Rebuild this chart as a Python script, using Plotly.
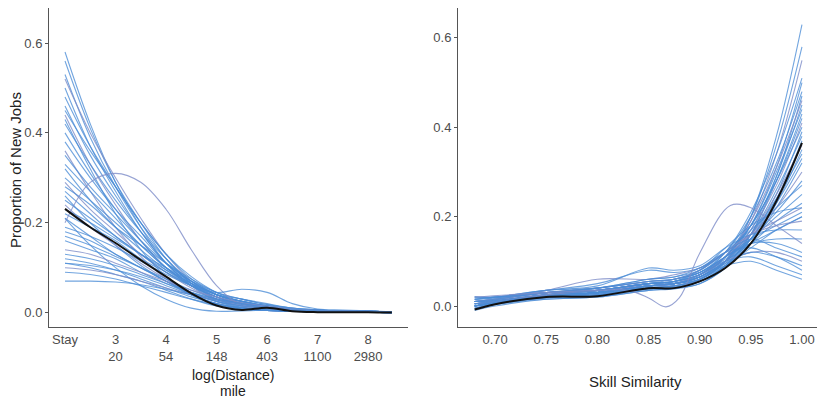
import plotly.graph_objects as go

# ---------------- Left panel: log(Distance) ----------------
dist_x = [2.0, 2.5, 3.0, 3.5, 4.0, 4.5, 5.0, 5.5, 6.0, 6.5, 7.0, 7.5, 8.0, 8.47]
dist_tickvals = [2, 3, 4, 5, 6, 7, 8]
dist_ticktext = ["Stay", "3<br>20", "4<br>54", "5<br>148", "6<br>403", "7<br>1100", "8<br>2980"]

dist_curves = [
    [0.58, 0.42, 0.29, 0.19, 0.11, 0.06, 0.025, 0.012, 0.008, 0.005, 0.003, 0.002, 0.001, 0.0],
    [0.56, 0.41, 0.29, 0.20, 0.12, 0.065, 0.03, 0.015, 0.01, 0.006, 0.004, 0.003, 0.002, 0.001],
    [0.53, 0.39, 0.28, 0.19, 0.12, 0.065, 0.03, 0.015, 0.01, 0.005, 0.003, 0.002, 0.001, 0.0],
    [0.52, 0.40, 0.30, 0.21, 0.13, 0.07, 0.035, 0.02, 0.012, 0.006, 0.004, 0.003, 0.002, 0.001],
    [0.50, 0.37, 0.27, 0.18, 0.11, 0.06, 0.03, 0.02, 0.012, 0.007, 0.005, 0.004, 0.003, 0.002],
    [0.48, 0.37, 0.28, 0.20, 0.13, 0.075, 0.04, 0.02, 0.01, 0.005, 0.003, 0.002, 0.001, 0.0],
    [0.46, 0.35, 0.26, 0.18, 0.11, 0.065, 0.035, 0.02, 0.01, 0.006, 0.004, 0.003, 0.002, 0.001],
    [0.45, 0.36, 0.28, 0.20, 0.13, 0.08, 0.045, 0.025, 0.015, 0.008, 0.005, 0.004, 0.003, 0.002],
    [0.44, 0.33, 0.24, 0.16, 0.10, 0.06, 0.035, 0.02, 0.012, 0.008, 0.005, 0.004, 0.003, 0.002],
    [0.43, 0.32, 0.22, 0.14, 0.08, 0.04, 0.018, 0.008, 0.005, 0.003, 0.002, 0.001, 0.001, 0.0],
    [0.42, 0.33, 0.25, 0.18, 0.12, 0.07, 0.04, 0.022, 0.012, 0.007, 0.004, 0.003, 0.002, 0.001],
    [0.40, 0.31, 0.23, 0.16, 0.10, 0.06, 0.035, 0.02, 0.012, 0.006, 0.004, 0.003, 0.002, 0.001],
    [0.38, 0.30, 0.23, 0.17, 0.11, 0.07, 0.04, 0.025, 0.014, 0.008, 0.005, 0.004, 0.003, 0.002],
    [0.36, 0.27, 0.19, 0.125, 0.075, 0.04, 0.02, 0.01, 0.006, 0.004, 0.003, 0.002, 0.001, 0.0],
    [0.35, 0.28, 0.22, 0.16, 0.11, 0.07, 0.04, 0.025, 0.015, 0.008, 0.005, 0.004, 0.003, 0.002],
    [0.33, 0.27, 0.21, 0.15, 0.10, 0.065, 0.04, 0.025, 0.015, 0.008, 0.005, 0.003, 0.002, 0.001],
    [0.32, 0.25, 0.19, 0.14, 0.095, 0.06, 0.035, 0.02, 0.012, 0.007, 0.004, 0.003, 0.002, 0.001],
    [0.30, 0.25, 0.20, 0.15, 0.10, 0.065, 0.04, 0.025, 0.015, 0.008, 0.005, 0.004, 0.003, 0.002],
    [0.29, 0.23, 0.18, 0.13, 0.09, 0.055, 0.03, 0.018, 0.01, 0.006, 0.004, 0.003, 0.002, 0.001],
    [0.28, 0.24, 0.19, 0.15, 0.11, 0.075, 0.045, 0.03, 0.018, 0.01, 0.006, 0.004, 0.003, 0.002],
    [0.27, 0.22, 0.17, 0.13, 0.09, 0.06, 0.035, 0.02, 0.012, 0.007, 0.005, 0.004, 0.003, 0.002],
    [0.26, 0.20, 0.15, 0.105, 0.07, 0.04, 0.02, 0.01, 0.005, 0.003, 0.002, 0.001, 0.001, 0.0],
    [0.25, 0.21, 0.17, 0.13, 0.095, 0.065, 0.04, 0.025, 0.015, 0.008, 0.005, 0.004, 0.003, 0.002],
    [0.24, 0.19, 0.15, 0.11, 0.075, 0.045, 0.025, 0.015, 0.01, 0.006, 0.004, 0.003, 0.002, 0.001],
    [0.23, 0.20, 0.165, 0.13, 0.10, 0.07, 0.045, 0.03, 0.018, 0.01, 0.006, 0.004, 0.003, 0.002],
    [0.22, 0.19, 0.16, 0.12, 0.09, 0.06, 0.04, 0.03, 0.02, 0.01, 0.006, 0.004, 0.003, 0.002],
    [0.21, 0.17, 0.13, 0.10, 0.07, 0.045, 0.03, 0.02, 0.012, 0.007, 0.005, 0.004, 0.003, 0.002],
    [0.21, 0.15, 0.10, 0.06, 0.03, 0.01, 0.003, 0.004, 0.005, 0.003, 0.002, 0.001, 0.001, 0.0],
    [0.20, 0.29, 0.31, 0.29, 0.23, 0.14, 0.06, 0.015, 0.005, 0.003, 0.002, 0.002, 0.001, 0.0],
    [0.19, 0.17, 0.145, 0.115, 0.085, 0.06, 0.045, 0.052, 0.045, 0.02, 0.008, 0.006, 0.004, 0.002],
    [0.18, 0.16, 0.13, 0.10, 0.07, 0.045, 0.025, 0.012, 0.006, 0.003, 0.002, 0.002, 0.001, 0.0],
    [0.17, 0.15, 0.125, 0.10, 0.075, 0.05, 0.03, 0.02, 0.012, 0.007, 0.005, 0.004, 0.003, 0.002],
    [0.16, 0.14, 0.12, 0.09, 0.065, 0.04, 0.02, 0.01, 0.005, 0.003, 0.002, 0.002, 0.001, 0.0],
    [0.14, 0.13, 0.11, 0.09, 0.07, 0.05, 0.035, 0.022, 0.014, 0.008, 0.005, 0.004, 0.003, 0.002],
    [0.13, 0.12, 0.105, 0.085, 0.065, 0.045, 0.03, 0.02, 0.012, 0.007, 0.005, 0.004, 0.003, 0.002],
    [0.12, 0.11, 0.095, 0.075, 0.055, 0.035, 0.02, 0.01, 0.006, 0.003, 0.002, 0.002, 0.001, 0.0],
    [0.11, 0.105, 0.095, 0.08, 0.06, 0.04, 0.025, 0.015, 0.01, 0.006, 0.004, 0.003, 0.002, 0.001],
    [0.11, 0.10, 0.085, 0.07, 0.05, 0.03, 0.015, 0.008, 0.005, 0.003, 0.002, 0.002, 0.001, 0.0],
    [0.10, 0.095, 0.085, 0.07, 0.055, 0.04, 0.028, 0.018, 0.01, 0.006, 0.004, 0.003, 0.002, 0.001],
    [0.09, 0.085, 0.075, 0.06, 0.045, 0.03, 0.018, 0.01, 0.006, 0.004, 0.003, 0.002, 0.001, 0.0],
    [0.07, 0.07, 0.068, 0.062, 0.052, 0.04, 0.028, 0.018, 0.01, 0.006, 0.004, 0.003, 0.002, 0.001],
]
dist_mean = [0.231, 0.19, 0.155, 0.117, 0.08, 0.043, 0.016, 0.006, 0.011, 0.003, 0.001, 0.001, 0.001, 0.0]

# ---------------- Right panel: Skill Similarity ----------------
skill_x = [0.68, 0.70, 0.75, 0.80, 0.85, 0.875, 0.90, 0.925, 0.95, 0.975, 1.00]
skill_tickvals = [0.70, 0.75, 0.80, 0.85, 0.90, 0.95, 1.00]

skill_curves = [
    [0.00, 0.01, 0.025, 0.03, 0.045, 0.05, 0.06, 0.10, 0.20, 0.38, 0.63],
    [0.01, 0.015, 0.03, 0.035, 0.05, 0.05, 0.065, 0.11, 0.20, 0.36, 0.58],
    [-0.005, 0.005, 0.02, 0.025, 0.04, 0.045, 0.06, 0.10, 0.19, 0.34, 0.55],
    [0.005, 0.01, 0.025, 0.03, 0.045, 0.05, 0.07, 0.12, 0.21, 0.34, 0.51],
    [0.0, 0.008, 0.02, 0.028, 0.04, 0.045, 0.06, 0.10, 0.18, 0.31, 0.50],
    [0.01, 0.015, 0.03, 0.04, 0.055, 0.06, 0.075, 0.12, 0.20, 0.32, 0.48],
    [-0.01, 0.0, 0.015, 0.02, 0.035, 0.04, 0.055, 0.09, 0.16, 0.29, 0.47],
    [0.005, 0.012, 0.025, 0.03, 0.045, 0.05, 0.065, 0.11, 0.19, 0.31, 0.46],
    [0.0, 0.01, 0.02, 0.025, 0.04, 0.042, 0.058, 0.10, 0.17, 0.29, 0.45],
    [0.02, 0.02, 0.03, 0.035, 0.05, 0.055, 0.07, 0.11, 0.18, 0.30, 0.44],
    [-0.005, 0.005, 0.018, 0.025, 0.038, 0.04, 0.055, 0.09, 0.16, 0.28, 0.43],
    [0.01, 0.012, 0.025, 0.032, 0.05, 0.055, 0.07, 0.11, 0.18, 0.28, 0.42],
    [0.0, 0.006, 0.02, 0.03, 0.045, 0.045, 0.06, 0.10, 0.17, 0.27, 0.41],
    [0.015, 0.018, 0.035, 0.05, 0.08, 0.075, 0.085, 0.12, 0.18, 0.28, 0.40],
    [-0.008, 0.003, 0.015, 0.02, 0.035, 0.038, 0.05, 0.085, 0.15, 0.25, 0.39],
    [0.005, 0.01, 0.022, 0.028, 0.042, 0.045, 0.06, 0.10, 0.16, 0.26, 0.38],
    [0.0, 0.008, 0.02, 0.025, 0.04, 0.04, 0.055, 0.09, 0.15, 0.24, 0.37],
    [0.01, 0.015, 0.028, 0.035, 0.05, 0.05, 0.065, 0.10, 0.16, 0.25, 0.36],
    [0.0, 0.005, 0.02, 0.022, 0.038, 0.04, 0.05, 0.085, 0.14, 0.23, 0.35],
    [0.02, 0.02, 0.035, 0.04, 0.055, 0.06, 0.075, 0.11, 0.16, 0.24, 0.34],
    [0.005, 0.01, 0.025, 0.03, 0.045, 0.045, 0.06, 0.095, 0.15, 0.23, 0.33],
    [-0.005, 0.004, 0.018, 0.025, 0.04, 0.042, 0.055, 0.09, 0.14, 0.22, 0.32],
    [0.01, 0.012, 0.025, 0.035, 0.05, 0.055, 0.07, 0.11, 0.16, 0.22, 0.30],
    [0.0, 0.008, 0.022, 0.03, 0.045, 0.05, 0.065, 0.10, 0.15, 0.21, 0.28],
    [0.015, 0.02, 0.03, 0.04, 0.06, 0.065, 0.08, 0.12, 0.17, 0.22, 0.27],
    [0.005, 0.01, 0.025, 0.035, 0.05, 0.055, 0.07, 0.105, 0.15, 0.20, 0.25],
    [0.0, 0.006, 0.02, 0.03, 0.045, 0.05, 0.065, 0.10, 0.14, 0.19, 0.23],
    [0.01, 0.015, 0.035, 0.06, 0.06, 0.07, 0.085, 0.12, 0.16, 0.19, 0.22],
    [0.01, 0.012, 0.025, 0.035, 0.05, 0.055, 0.08, 0.13, 0.18, 0.21, 0.22],
    [0.005, 0.01, 0.025, 0.035, 0.05, 0.06, 0.075, 0.11, 0.15, 0.18, 0.21],
    [0.0, 0.008, 0.022, 0.03, 0.045, 0.05, 0.065, 0.10, 0.14, 0.17, 0.20],
    [0.0, 0.01, 0.02, 0.03, 0.045, 0.05, 0.06, 0.09, 0.13, 0.17, 0.20],
    [0.01, 0.015, 0.03, 0.04, 0.055, 0.06, 0.08, 0.12, 0.16, 0.18, 0.19],
    [0.015, 0.02, 0.035, 0.045, 0.085, 0.08, 0.09, 0.13, 0.16, 0.17, 0.17],
    [0.0, 0.005, 0.02, 0.03, 0.045, 0.05, 0.07, 0.11, 0.14, 0.15, 0.15],
    [0.01, 0.012, 0.025, 0.035, 0.05, 0.055, 0.075, 0.11, 0.14, 0.14, 0.12],
    [0.02, 0.02, 0.03, 0.04, 0.055, 0.06, 0.08, 0.12, 0.15, 0.13, 0.11],
    [0.005, 0.01, 0.025, 0.035, 0.045, 0.05, 0.07, 0.10, 0.12, 0.12, 0.10],
    [0.0, 0.006, 0.02, 0.03, 0.045, 0.05, 0.065, 0.095, 0.12, 0.11, 0.09],
    [0.01, 0.015, 0.03, 0.04, 0.06, 0.065, 0.085, 0.12, 0.13, 0.11, 0.08],
    [0.015, 0.018, 0.03, 0.035, 0.05, 0.055, 0.07, 0.10, 0.11, 0.09, 0.07],
    [0.005, 0.01, 0.022, 0.03, 0.045, 0.05, 0.065, 0.09, 0.10, 0.08, 0.06],
]
# one irregular curve, read on its own grid
skill_odd_x = [0.68, 0.75, 0.80, 0.83, 0.85, 0.867, 0.88, 0.90, 0.93, 0.95, 0.975, 1.00]
skill_odd_y = [0.02, 0.03, 0.035, 0.035, 0.018, -0.002, 0.018, 0.118, 0.225, 0.22, 0.18, 0.14]

skill_mean = [-0.008, 0.004, 0.02, 0.022, 0.04, 0.04, 0.055, 0.085, 0.14, 0.235, 0.365]

# ---------------- Figure ----------------
BLUE = "rgba(74,140,214,0.78)"
LAV = "rgba(125,140,200,0.8)"
FONT = "Liberation Sans, Arial, sans-serif"
LW = 1.1

fig = go.Figure()

for i, ys in enumerate(dist_curves):
    fig.add_trace(go.Scatter(x=dist_x, y=ys, mode="lines", xaxis="x", yaxis="y",
                             line=dict(color=LAV if i % 5 == 3 else BLUE, width=LW, shape="spline", smoothing=1.0),
                             hoverinfo="skip", showlegend=False))
fig.add_trace(go.Scatter(x=dist_x, y=dist_mean, mode="lines", xaxis="x", yaxis="y",
                         line=dict(color="#111111", width=2, shape="spline", smoothing=1.0),
                         showlegend=False))

for i, ys in enumerate(skill_curves):
    fig.add_trace(go.Scatter(x=skill_x, y=ys, mode="lines", xaxis="x2", yaxis="y2",
                             line=dict(color=LAV if i % 5 == 2 else BLUE, width=LW, shape="spline", smoothing=1.0),
                             hoverinfo="skip", showlegend=False))
fig.add_trace(go.Scatter(x=skill_odd_x, y=skill_odd_y, mode="lines", xaxis="x2", yaxis="y2",
                         line=dict(color=LAV, width=LW, shape="spline", smoothing=1.0),
                         hoverinfo="skip", showlegend=False))
fig.add_trace(go.Scatter(x=skill_x, y=skill_mean, mode="lines", xaxis="x2", yaxis="y2",
                         line=dict(color="#111111", width=2, shape="spline", smoothing=1.0),
                         showlegend=False))

W, H = 825, 399
TOP, BOT = 8, 72
PH = H - TOP - BOT


def py(pix):
    """paper y fraction for a pixel row"""
    return (H - BOT - pix) / PH


tickfont = dict(family=FONT, size=13, color="#4d4d4d")
base = dict(showgrid=False, zeroline=False, automargin=False, fixedrange=True)
# main x axes: line + labels (no tick marks so labels sit close to the line)
xmain = dict(base, showline=True, linecolor="#555555", linewidth=1, ticks="", tickfont=tickfont)
# overlay x axes: only tick marks
xticks_only = dict(base, showline=False, ticks="outside", ticklen=3, tickcolor="#555555",
                   tickwidth=1, showticklabels=False)
ymain = dict(base, showline=True, linecolor="#555555", linewidth=1, ticks="outside", ticklen=3,
             tickcolor="#555555", tickwidth=1, tickfont=tickfont)

xd1 = [49 / W, 408 / W]
xd2 = [458 / W, 817 / W]
xr1 = [1.683, 8.79]
xr2 = [0.6637, 1.0147]

title_font = dict(family=FONT, size=15, color="#222222")
title_font_small = dict(family=FONT, size=14, color="#222222")

fig.update_layout(
    width=W, height=H,
    margin=dict(l=0, r=0, t=TOP, b=BOT),
    paper_bgcolor="white", plot_bgcolor="white",
    font=dict(family=FONT),
    xaxis=dict(xmain, domain=xd1, range=xr1, tickvals=dist_tickvals, ticktext=dist_ticktext, anchor="y"),
    yaxis=dict(ymain, domain=[0, 1], range=[-0.032, 0.678],
               tickvals=[0.0, 0.2, 0.4, 0.6], tickformat=".1f", anchor="x"),
    xaxis2=dict(xmain, domain=xd2, range=xr2, tickvals=skill_tickvals, tickformat=".2f", anchor="y2"),
    yaxis2=dict(ymain, domain=[0, 1], range=[-0.047, 0.667],
                tickvals=[0.0, 0.2, 0.4, 0.6], tickformat=".1f", anchor="x2"),
    xaxis3=dict(xticks_only, domain=xd1, range=xr1, tickvals=dist_tickvals, overlaying="x", anchor="y"),
    xaxis4=dict(xticks_only, domain=xd2, range=xr2, tickvals=skill_tickvals, overlaying="x2", anchor="y2"),
    annotations=[
        dict(text="Proportion of New Jobs", xref="paper", yref="paper",
             x=15 / W, y=py(170), textangle=-90,
             showarrow=False, xanchor="center", yanchor="middle", font=title_font),
        dict(text="log(Distance)", xref="paper", yref="paper",
             x=233 / W, y=py(375), borderpad=0,
             showarrow=False, xanchor="center", yanchor="middle", font=title_font_small),
        dict(text="mile", xref="paper", yref="paper",
             x=233 / W, y=py(390.5), borderpad=0,
             showarrow=False, xanchor="center", yanchor="middle", font=title_font_small),
        dict(text="Skill Similarity", xref="paper", yref="paper",
             x=635 / W, y=py(381),
             showarrow=False, xanchor="center", yanchor="middle", font=title_font),
    ],
)

fig.write_html("out.html", config={"displayModeBar": False},
               post_script="document.body.style.margin='0px';")
